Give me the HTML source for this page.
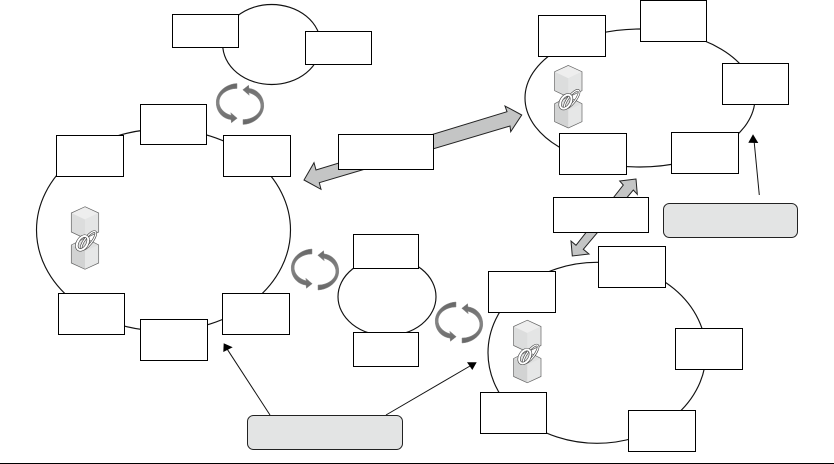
<!DOCTYPE html>
<html><head><meta charset="utf-8"><style>html,body{margin:0;padding:0;background:#fff}svg{display:block}</style></head>
<body>
<svg width="834" height="464" viewBox="0 0 834 464" xmlns="http://www.w3.org/2000/svg">
<defs>
<linearGradient id="g" x1="0" y1="0" x2="0" y2="1"><stop offset="0" stop-color="#666"/><stop offset=".5" stop-color="#858585"/><stop offset="1" stop-color="#6a6a6a"/></linearGradient>
<g id="cyc">
<path id="h" d="M-3,-20.5 L-3,-15.5 C-12,-15.5 -20.8,-10 -20.8,-2 C-20.8,4.5 -15.5,9.5 -8.8,11.3 L-9.2,8.7 L-2.8,14.2 L-8.6,18.8 L-9,15.6 C-17,14.8 -24,8 -23.8,-2 C-23.5,-12 -14,-20 -3,-20.5 Z" fill="url(#g)" stroke="#8c8c8c" stroke-width=".5"/>
<use href="#h" transform="rotate(180)"/>
</g>
<g id="chain">
<path d="M85,206.7 L98.7,213 L98.7,232 L85,238.5 L71.3,232 L71.3,213 Z" fill="#dcdddd"/>
<path d="M71.3,213 L85,219.5 L98.7,213 L85,206.7 Z" fill="#eeeeee"/>
<path d="M85,219.5 L85,238.5 L98.7,232 L98.7,213 Z" fill="#e4e5e5"/>
<path d="M85,206.7 L98.7,213 L98.7,232 L85,238.5 L71.3,232 L71.3,213 Z" fill="none" stroke="#666" stroke-width=".7"/>
<path d="M71.3,245 L85,238 L98.7,245 L98.7,263 L85,269.3 L71.3,263 Z" fill="#dfe0e0"/>
<path d="M85,251 L85,269.3 L71.3,263 L71.3,245 Z" fill="#d2d3d3"/>
<path d="M85,251 L85,269.3 L98.7,263 L98.7,245 Z" fill="#e6e7e7"/>
<path d="M71.3,245 L85,238 L98.7,245 L98.7,263 L85,269.3 L71.3,263 Z" fill="none" stroke="#666" stroke-width=".7"/>
<g fill="none">
<ellipse cx="88.5" cy="240.5" rx="3.6" ry="11" transform="rotate(38 88.5 240.5)" stroke="#444" stroke-width="2.4"/>
<ellipse cx="88.5" cy="240.5" rx="3.6" ry="11" transform="rotate(38 88.5 240.5)" stroke="#fff" stroke-width="1.2"/>
<ellipse cx="82.5" cy="243" rx="4.8" ry="7.6" transform="rotate(32 82.5 243)" stroke="#444" stroke-width="3.2"/>
<ellipse cx="82.5" cy="243" rx="4.8" ry="7.6" transform="rotate(32 82.5 243)" stroke="#fff" stroke-width="2"/>
</g>
</g>
</defs>

<g fill="none" stroke="#111" stroke-width="1.15">
<ellipse cx="163.5" cy="230" rx="127" ry="101"/>
<ellipse cx="271.7" cy="44.5" rx="49" ry="40"/>
<ellipse cx="640" cy="98" rx="115" ry="69"/>
<ellipse cx="387" cy="296.7" rx="49" ry="39"/>
<ellipse cx="597" cy="352.8" rx="109" ry="90.5"/>
</g>

<use href="#cyc" transform="translate(240,104)"/>
<use href="#cyc" transform="translate(315,269.5)"/>
<use href="#cyc" transform="translate(459,322.5)"/>

<use href="#chain"/>
<use href="#chain" transform="translate(483.3,-141.3)"/>
<use href="#chain" transform="translate(442.3,113.5)"/>

<g fill="#c4c5c5" stroke="#222" stroke-width="1">
<path d="M521.7,115 L505,106 L507,111.7 L316,170 L314,162.7 L304,180 L321,189.3 L319.3,182.7 L510,126 L510.7,131.7 Z"/>
<path d="M636,179 L619.7,181 L623.3,185 L576,245.3 L571,241 L572.3,256 L589,254 L583.3,249.3 L633.3,190 L637.3,194.3 Z"/>
</g>

<g fill="#fff" stroke="#000" stroke-width="1">
<rect x="140.5" y="104.5" width="66" height="40"/>
<rect x="56.5" y="135.5" width="67" height="41"/>
<rect x="223.5" y="135.5" width="67" height="41"/>
<rect x="58.5" y="293.5" width="66" height="41"/>
<rect x="140.5" y="319.5" width="67" height="41"/>
<rect x="222.5" y="293.5" width="67" height="41"/>
<rect x="172.5" y="14.5" width="66" height="33"/>
<rect x="305.5" y="31.5" width="66" height="33"/>
<rect x="538.5" y="15.5" width="67" height="41"/>
<rect x="640.5" y="0.5" width="66" height="41"/>
<rect x="722.5" y="63.5" width="66" height="41"/>
<rect x="559.5" y="133.5" width="67" height="41"/>
<rect x="671.5" y="132.5" width="67" height="41"/>
<rect x="338.5" y="134.5" width="95" height="35"/>
<rect x="553.5" y="197.5" width="95" height="35"/>
<rect x="353.5" y="234.5" width="65" height="34"/>
<rect x="353.5" y="332.5" width="65" height="34"/>
<rect x="488.5" y="271.5" width="67" height="41"/>
<rect x="598.5" y="246.5" width="67" height="41"/>
<rect x="675.5" y="328.5" width="67" height="41"/>
<rect x="480.5" y="392.5" width="66" height="41"/>
<rect x="628.5" y="410.5" width="67" height="41"/>
</g>

<g fill="#e3e4e4" stroke="#222" stroke-width="1">
<rect x="663.5" y="203.5" width="134" height="34" rx="6" ry="6"/>
<rect x="247.5" y="415.5" width="155" height="34" rx="6" ry="6"/>
</g>

<g stroke="#111" stroke-width="1" fill="none">
<line x1="270" y1="415" x2="227.3" y2="349.3"/>
<line x1="386" y1="415" x2="470" y2="366"/>
<line x1="759.3" y1="195" x2="754" y2="140"/>
</g>
<g fill="#000">
<path d="M223.7,343.3 L232.7,347.3 L223.3,352 Z"/>
<path d="M476.7,362.3 L467,362.3 L472.3,370 Z"/>
<path d="M753,134.3 L748.3,142.7 L758.3,143 Z"/>
</g>

<line x1="0" y1="463.5" x2="834" y2="463.5" stroke="#000" stroke-width="1"/>
</svg>
</body></html>
